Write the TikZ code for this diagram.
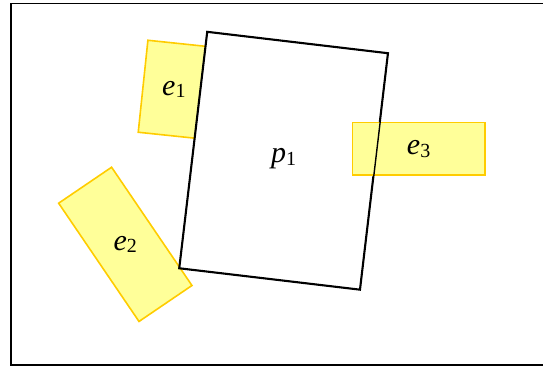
\documentclass[tikz,border=0pt]{standalone}
\usepackage{fontspec}
\setmainfont{Liberation Serif}
\definecolor{efill}{HTML}{FFFF99}
\definecolor{eline}{HTML}{FFCC00}
\newcommand{\lbl}[2]{{\fontsize{30}{32}\selectfont\itshape #1}\raisebox{-0.25em}{\fontsize{20}{22}\selectfont #2}}
\begin{document}
\begin{tikzpicture}[x=1pt,y=1pt,
  ebox/.style={draw=eline, fill=efill, line width=1.6pt, inner sep=0pt, rectangle},
  pbox/.style={draw=black, fill=white, line width=1.4pt, inner sep=0pt, rectangle}]
\useasboundingbox (0,0) rectangle (543,366);
\draw[line width=1.8pt] (10.8,1) rectangle (560,362.5);
\node[ebox, minimum width=62, minimum height=92.5, rotate=-6] (e1) at (173.9,276.5) {};
\node at (e1.center) {\lbl{e}{1}};
\node[ebox, minimum width=64, minimum height=143, rotate=34.2] (e2) at (125.3,121.65) {};
\node at (e2.center) {\lbl{e}{2}};
\node[pbox, minimum width=181.3, minimum height=237.4, rotate=-6.75] (p1) at (283.6,205.25) {};
\node at ([yshift=2pt]p1.center) {\lbl{p}{1}};
\node[ebox, minimum width=132.3, minimum height=52.3] (e3) at (418.6,217.2) {};
\node at (e3.center) {\lbl{e}{3}};
\draw[line width=1.4pt, line join=miter] (p1.north west) -- (p1.north east) -- (p1.south east) -- (p1.south west) -- cycle;
\end{tikzpicture}
\end{document}
